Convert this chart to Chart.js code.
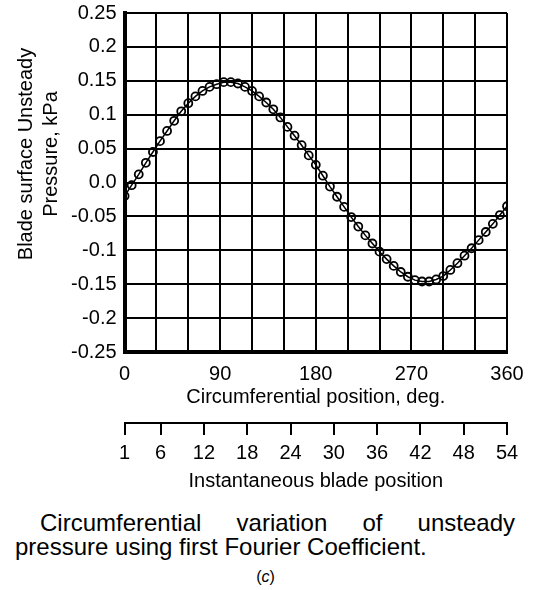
<!DOCTYPE html>
<html>
<head>
<meta charset="utf-8">
<script src="https://cdn.jsdelivr.net/npm/chart.js@4.4.0/dist/chart.umd.min.js"></script>
<style>
  body { margin: 0; background: #fff; }
  #wrap { position: relative; width: 541px; height: 590px; font-family: "Liberation Sans", Arial, sans-serif; color: #000; }
  #chart-box { position: absolute; left: 0; top: 0; width: 541px; height: 500px; }
  #caption { position: absolute; left: 15px; top: 511px; width: 500px; font-size: 24px; line-height: 24px; text-align: justify; text-indent: 25px; }
  #tag { position: absolute; left: 0; top: 567px; width: 531px; text-align: center; font-size: 16px; line-height: 20px; }
</style>
</head>
<body>
<div id="wrap">
  <div id="chart-box"><canvas id="pressure-plot" width="541" height="500"></canvas></div>
  <div id="caption">Circumferential variation of unsteady pressure using first Fourier Coefficient.</div>
  <div id="tag">(<i>c</i>)</div>
</div>
<script>
// circumferential position of each point, deg
const angles = [0, 6.67, 13.33, 20, 26.67, 33.33, 40, 46.67, 53.33, 60,
  66.67, 73.33, 80, 86.67, 93.33, 100, 106.67, 113.33, 120, 126.67,
  133.33, 140, 146.67, 153.33, 160, 166.67, 173.33, 180, 186.67, 193.33,
  200, 206.67, 213.33, 220, 226.67, 233.33, 240, 246.67, 253.33, 260,
  266.67, 273.33, 280, 286.67, 293.33, 300, 306.67, 313.33, 320, 326.67,
  333.33, 340, 346.67, 353.33, 360];

// blade surface unsteady pressure, kPa
const pressure = [-0.020, -0.004, 0.012, 0.029, 0.045, 0.061, 0.076, 0.091, 0.105, 0.117,
  0.127, 0.135, 0.141, 0.145, 0.148, 0.148, 0.146, 0.141, 0.135, 0.127,
  0.118, 0.108, 0.096, 0.082, 0.069, 0.055, 0.040, 0.026, 0.010, -0.006,
  -0.021, -0.036, -0.051, -0.065, -0.078, -0.090, -0.102, -0.113, -0.123, -0.132,
  -0.139, -0.144, -0.146, -0.146, -0.143, -0.138, -0.129, -0.119, -0.108, -0.097,
  -0.085, -0.073, -0.061, -0.048, -0.035];

// labelled ticks
const angleLabels = [0, 90, 180, 270, 360];
const bladeTicks = [1, 6, 12, 18, 24, 30, 36, 42, 48, 54];
const yTitleLines = ['Blade surface Unsteady', 'Pressure, kPa'];

const FONT = '"Liberation Sans", Arial, sans-serif';

// y title is drawn by hand so it can sit a bit above the middle like the original
const yTitlePlugin = {
  id: 'yTitle',
  afterDraw(chart) {
    const ctx = chart.ctx;
    const area = chart.chartArea;
    const xs = [area.left - 98, area.left - 73];
    ctx.save();
    ctx.fillStyle = '#000';
    ctx.font = '20px ' + FONT;
    ctx.textAlign = 'center';
    ctx.textBaseline = 'middle';
    yTitleLines.forEach((line, i) => {
      ctx.save();
      ctx.translate(xs[i], area.top + 141);
      ctx.rotate(-Math.PI / 2);
      ctx.fillText(line, 0, 0);
      ctx.restore();
    });
    ctx.restore();
  }
};

const points = angles.map((a, i) => ({ x: a, y: pressure[i] }));

const ctx = document.getElementById('pressure-plot').getContext('2d');
new Chart(ctx, {
  type: 'line',
  data: {
    datasets: [{
      data: points,
      borderColor: '#000',
      borderWidth: 1.5,
      pointRadius: 4,
      pointBorderWidth: 1.8,
      pointBorderColor: '#000',
      pointBackgroundColor: 'rgba(0,0,0,0)',
      tension: 0
    }]
  },
  options: {
    responsive: false,
    animation: false,
    events: [],
    layout: { padding: { left: 63, right: 34, top: 13, bottom: 7 } },
    plugins: { legend: { display: false }, tooltip: { enabled: false } },
    scales: {
      x: {
        type: 'linear',
        position: 'bottom',
        min: 0,
        max: 360,
        weight: 0,
        grid: { color: '#000', lineWidth: 2, drawTicks: false },
        border: { color: '#000', width: 4 },
        ticks: {
          stepSize: 30,
          autoSkip: false,
          maxRotation: 0,
          padding: 10,
          color: '#000',
          font: { family: FONT, size: 20 },
          callback: (v) => angleLabels.includes(v) ? String(v) : ''
        },
        title: {
          display: true,
          text: 'Circumferential position, deg.',
          color: '#000',
          font: { family: FONT, size: 20 },
          padding: { top: -11, bottom: 14 }
        }
      },
      x2: {
        type: 'linear',
        position: 'bottom',
        min: 1,
        max: 54,
        weight: 1,
        afterBuildTicks: (scale) => {
          scale.ticks = bladeTicks.map((v) => ({ value: v }));
        },
        grid: { display: true, drawOnChartArea: false, drawTicks: true, tickLength: 12, color: '#000', lineWidth: 2 },
        border: { display: true, color: '#000', width: 2 },
        ticks: {
          autoSkip: false,
          maxRotation: 0,
          padding: 6,
          color: '#000',
          font: { family: FONT, size: 20 },
          callback: (v) => String(v)
        },
        title: {
          display: true,
          text: 'Instantaneous blade position',
          color: '#000',
          font: { family: FONT, size: 20 },
          padding: { top: -2, bottom: 0 }
        }
      },
      y: {
        min: -0.25,
        max: 0.25,
        grid: { color: '#000', lineWidth: 2, drawTicks: false },
        border: { color: '#000', width: 4 },
        ticks: {
          stepSize: 0.05,
          padding: 8,
          color: '#000',
          font: { family: FONT, size: 20, lineHeight: 0.5 },
          callback: (v) => {
            const r = Math.round(v * 100) / 100;
            return r === 0 ? '0.0' : String(r);
          }
        }
      }
    }
  },
  plugins: [yTitlePlugin]
});
</script>
</body>
</html>
